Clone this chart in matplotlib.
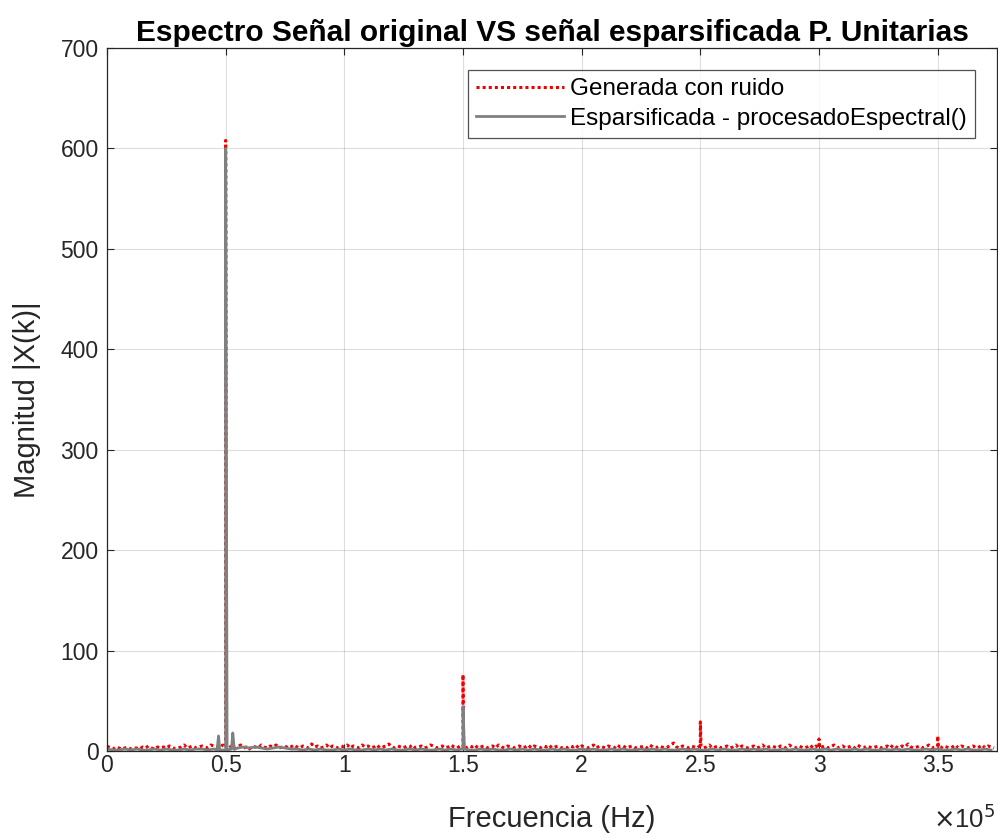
import numpy as np
import matplotlib
matplotlib.use("Agg")
import matplotlib.pyplot as plt
from matplotlib.ticker import FuncFormatter, MultipleLocator

plt.rcParams['font.family'] = ['Liberation Sans', 'DejaVu Sans']

# Spectrum resolution of the noisy signal (Hz per bin)
df_noisy = 1250.0
# Noise floor magnitudes of the noisy signal, one per bin from 0 Hz
noisy_floor = [
    5, 3, 2, 4, 3, 2, 3, 4, 2, 3, 3, 2, 4, 3, 5, 3, 2, 4, 3, 4,
    3, 5, 4, 2, 3, 4, 6, 3, 4, 5, 3, 4, 5, 4, 3, 6, 5, 4, 3, 6,
    4, 3, 5, 2, 4, 6, 3, 4, 2, 5, 4, 3, 6, 4, 3, 5, 4, 6, 3, 4,
    5, 3, 4, 6, 4, 3, 5, 4, 3, 7, 4, 5, 3, 4, 6, 3, 5, 4, 3, 5,
    4, 6, 3, 5, 4, 3, 6, 4, 5, 3, 4, 6, 3, 4, 5, 7, 4, 3, 5, 4,
    3, 5, 4, 6, 3, 4, 5, 3, 4, 6, 5, 3, 4, 5, 3, 4, 6, 4, 3, 5,
    4, 3, 5, 4, 6, 3, 4, 5, 3, 4, 5, 3, 6, 4, 3, 5, 4, 3, 4, 5,
    3, 4, 6, 3, 5, 4, 3, 5, 4, 6, 3, 4, 5, 3, 4, 3, 5, 4, 6, 3,
    5, 4, 3, 4, 6, 3, 5, 4, 3, 5, 4, 3, 6, 4, 5, 3, 4, 5, 3, 4,
    4, 5, 3, 6, 4, 3, 5, 4, 3, 4, 6, 8, 4, 3, 5, 4, 3, 5, 4, 3,
    5, 3, 4, 6, 3, 4, 5, 3, 4, 5, 3, 4, 6, 3, 5, 4, 3, 4, 5, 3,
    4, 6, 3, 4, 5, 4, 3, 5, 4, 3, 6, 4, 3, 5, 4, 3, 4, 6, 3, 5,
    3, 4, 5, 3, 4, 6, 3, 4, 5, 3, 4, 5, 3, 6, 4, 3, 5, 4, 3, 4,
    5, 3, 4, 5, 3, 6, 4, 3, 5, 4, 7, 4, 3, 4, 5, 3, 4, 6, 3, 4,
    4, 3, 5, 4, 3, 4, 6, 3, 5, 4, 3, 4, 5, 3, 4, 6, 3, 5, 4, 3,
]
# Tonal components of the noisy signal
noisy_peak_freqs = [50000, 150000, 250000, 300000, 350000]
noisy_peak_mags = [608, 76, 29, 12, 15]

# Sparsified spectrum
df_sparse = 2500.0
sparse_floor = [
    2, 1, 1, 2, 1, 2, 1, 1, 2, 1, 2, 1, 1, 2, 1, 2, 2, 1, 2, 1,
    1, 2, 3, 4, 3, 4, 3, 2, 3, 4, 3, 2, 2, 1, 2, 1, 2, 1, 1, 2,
    1, 2, 1, 1, 2, 1, 2, 1, 2, 1, 1, 2, 1, 2, 1, 1, 2, 1, 2, 1,
    2, 1, 1, 2, 1, 2, 1, 1, 2, 1, 2, 1, 2, 1, 1, 2, 1, 2, 1, 1,
    2, 1, 2, 1, 1, 2, 1, 2, 1, 1, 2, 1, 2, 1, 2, 1, 1, 2, 1, 2,
    1, 1, 2, 1, 2, 1, 1, 2, 1, 2, 1, 2, 1, 1, 2, 1, 2, 1, 1, 2,
    1, 2, 1, 2, 1, 1, 2, 1, 2, 1, 1, 2, 1, 2, 1, 2, 1, 1, 2, 1,
    2, 1, 1, 2, 1, 2, 1, 1, 2, 1,
]
sparse_peak_freqs = [47000, 50000, 53000, 150000]
sparse_peak_mags = [15, 600, 18, 44]


def build_spectrum(df, floor, peak_freqs, peak_mags, half_width):
    """Combine a floor sampled every df Hz with narrow spectral lines."""
    freqs = list(np.arange(len(floor)) * df)
    mags = list(floor)
    for f, m in zip(peak_freqs, peak_mags):
        base = floor[min(int(round(f / df)), len(floor) - 1)]
        freqs += [f - half_width, f, f + half_width]
        mags += [base, m, base]
    order = np.argsort(freqs, kind="stable")
    return np.asarray(freqs)[order], np.asarray(mags, dtype=float)[order]


f_noisy, x_noisy = build_spectrum(df_noisy, noisy_floor, noisy_peak_freqs,
                                  noisy_peak_mags, 300)
f_sparse, x_sparse = build_spectrum(df_sparse, sparse_floor, sparse_peak_freqs,
                                    sparse_peak_mags, 600)

fig = plt.figure(figsize=(9.98, 8.38), dpi=100)
ax = fig.add_axes([0.1072, 0.1038, 0.8918, 0.8389])

axis_col = (0.15, 0.15, 0.15)
ax.plot(f_noisy, x_noisy, color=(0.95, 0.0, 0.0), linestyle=(0, (1, 1.0)),
        linewidth=2.2, label='Generada con ruido')
ax.plot(f_sparse, x_sparse, color=(0.5, 0.5, 0.5), linewidth=2.0,
        label='Esparsificada - procesadoEspectral()')

ax.set_xlim(0, 3.75e5)
ax.set_ylim(0, 700)
ax.xaxis.set_major_locator(MultipleLocator(0.5e5))
ax.yaxis.set_major_locator(MultipleLocator(100))
ax.xaxis.set_major_formatter(FuncFormatter(lambda v, p: f"{v / 1e5:g}"))

ax.grid(True, color=(0.15, 0.15, 0.15), alpha=0.15, linewidth=0.8)
ax.tick_params(direction='in', length=5, width=0.8, colors=axis_col,
               labelsize=16.5, top=True, right=True, labeltop=False,
               labelright=False)
ax.tick_params(axis='x', pad=2)
ax.tick_params(axis='y', pad=6)
for s in ax.spines.values():
    s.set_color(axis_col)
    s.set_linewidth(0.9)

ax.set_title('Espectro Señal original VS señal esparsificada P. Unitarias',
             fontsize=21.5, fontweight='bold', pad=5)
ax.set_xlabel('Frecuencia (Hz)', fontsize=21, color=axis_col, labelpad=20)
ax.set_ylabel('Magnitud |X(k)|', fontsize=21, color=axis_col, labelpad=14)
fig.text(0.935, 0.006, r'$\times$10$^5$', fontsize=18.5, color=axis_col,
         ha='left', va='bottom')

leg = ax.legend(loc='upper right', fontsize=17.5, frameon=True, fancybox=False,
                edgecolor=axis_col, borderaxespad=0.9, handlelength=3.6,
                handletextpad=0.25, borderpad=0.35, labelspacing=0.3)
leg.get_frame().set_linewidth(0.9)

fig.savefig('out.png', dpi=100, facecolor='white')
